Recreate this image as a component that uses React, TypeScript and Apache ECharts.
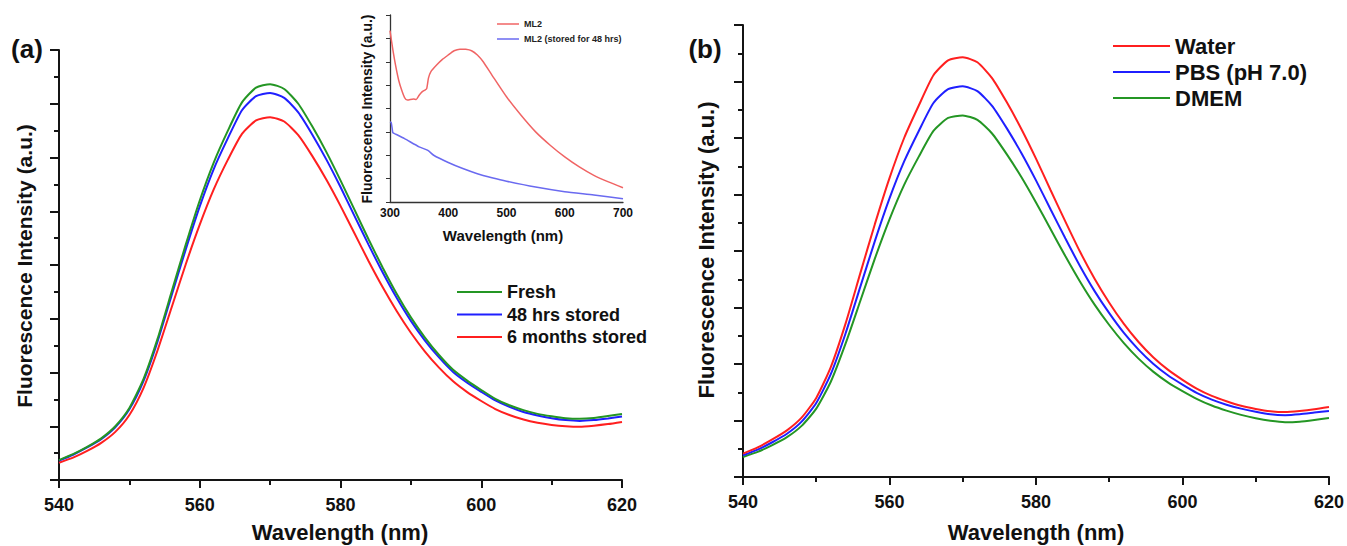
import React, { useEffect, useRef } from "react";
import * as echarts from "echarts";

const FONT = '"Liberation Sans", Arial, sans-serif';
const RED = "#ff1f1f";
const BLUE = "#1f1fff";
const GREEN = "#249624";
const AXIS = "#141414";

// wavelength grid (nm)
const WAVELENGTH = [
  540, 542, 544, 546, 548, 550, 552, 554, 556, 558, 560, 562, 564, 566, 568, 570, 572, 574, 576, 578, 580,
  582, 584, 586, 588, 590, 592, 594, 596, 598, 600, 602, 604, 606, 608, 610, 612, 614, 616, 618, 620,
];

// panel (a)
const FRESH = [
  0.74, 0.96, 1.23, 1.55, 2.0, 2.68, 3.75, 5.25, 7.0, 8.75, 10.4, 11.82, 13.0, 14.05, 14.6, 14.73, 14.55, 14.0, 13.15,
  12.2, 11.15, 10.05, 8.95, 7.9, 6.92, 6.05, 5.3, 4.65, 4.1, 3.7, 3.35, 3.02, 2.78, 2.6, 2.46, 2.37, 2.3, 2.28,
  2.31, 2.38, 2.46,
];
const STORED_48H = [
  0.72, 0.94, 1.21, 1.52, 1.96, 2.63, 3.68, 5.15, 6.87, 8.57, 10.18, 11.58, 12.72, 13.76, 14.28, 14.4, 14.22, 13.68,
  12.85, 11.92, 10.9, 9.82, 8.75, 7.72, 6.77, 5.92, 5.19, 4.56, 4.02, 3.62, 3.28, 2.96, 2.72, 2.53, 2.4, 2.3, 2.23,
  2.2, 2.23, 2.29, 2.36,
];
const STORED_6M = [
  0.64, 0.83, 1.08, 1.38, 1.79, 2.42, 3.42, 4.82, 6.42, 8.02, 9.5, 10.82, 11.92, 12.88, 13.38, 13.5, 13.34, 12.83,
  12.05, 11.17, 10.2, 9.17, 8.14, 7.17, 6.28, 5.48, 4.78, 4.18, 3.67, 3.27, 2.94, 2.64, 2.42, 2.25, 2.13, 2.05, 2.0,
  1.98, 2.02, 2.08, 2.16,
];

// panel (b)
const WATER = [
  0.83, 1.05, 1.33, 1.65, 2.1, 2.8, 3.9, 5.43, 7.2, 8.95, 10.58, 12.0, 13.15, 14.22, 14.75, 14.86, 14.68, 14.12,
  13.27, 12.32, 11.27, 10.15, 9.05, 7.98, 7.02, 6.17, 5.42, 4.78, 4.24, 3.8, 3.44, 3.12, 2.87, 2.68, 2.52, 2.41, 2.33,
  2.3, 2.34, 2.4, 2.48,
];
const PBS = [
  0.77, 0.97, 1.23, 1.53, 1.96, 2.62, 3.65, 5.08, 6.72, 8.35, 9.86, 11.17, 12.25, 13.24, 13.73, 13.83, 13.66, 13.14,
  12.35, 11.47, 10.5, 9.47, 8.45, 7.47, 6.58, 5.8, 5.1, 4.51, 4.01, 3.6, 3.27, 2.97, 2.74, 2.56, 2.42, 2.31, 2.22,
  2.19, 2.22, 2.28, 2.34,
];
const DMEM = [
  0.71, 0.89, 1.13, 1.41, 1.81, 2.42, 3.38, 4.72, 6.22, 7.73, 9.12, 10.34, 11.34, 12.25, 12.71, 12.8, 12.64, 12.16,
  11.43, 10.62, 9.72, 8.77, 7.82, 6.92, 6.1, 5.38, 4.74, 4.19, 3.73, 3.35, 3.04, 2.76, 2.53, 2.35, 2.2, 2.08, 1.99,
  1.94, 1.96, 2.02, 2.09,
];

// inset
const INSET_ML2_X = [
  300, 305, 310, 315, 320, 325, 330, 340, 345, 350, 355, 360, 363, 366, 370, 380, 390, 400, 410, 420, 430, 440, 450,
  460, 475, 500, 525, 550, 575, 600, 625, 650, 675, 700,
];
const INSET_ML2_Y = [
  7.33, 6.5, 5.79, 5.2, 4.79, 4.47, 4.36, 4.41, 4.39, 4.57, 4.71, 4.79, 4.85, 5.3, 5.57, 5.86, 6.1, 6.29, 6.47, 6.54,
  6.53, 6.47, 6.29, 6.0, 5.43, 4.5, 3.71, 3.0, 2.43, 1.93, 1.5, 1.14, 0.86, 0.61,
];
const INSET_STORED_X = [300, 302, 304, 305, 310, 325, 350, 365, 375, 400, 425, 450, 475, 500, 550, 600, 650, 700];
const INSET_STORED_Y = [3.43, 3.4, 3.1, 2.96, 2.9, 2.71, 2.36, 2.21, 2.0, 1.69, 1.43, 1.21, 1.04, 0.89, 0.64, 0.44, 0.3, 0.14];

const LEGEND_A = ["Fresh", "48 hrs stored", "6 months stored"];
const LEGEND_B = ["Water", "PBS (pH 7.0)", "DMEM"];
const LEGEND_INSET = ["ML2", "ML2 (stored for 48 hrs)"];

const pairs = (xs: number[], ys: number[]) => xs.map((x, i) => [x, ys[i]]);

function mainX(gridIndex: number) {
  return {
    type: "value",
    gridIndex,
    min: 540,
    max: 620,
    interval: 20,
    axisLine: { lineStyle: { color: AXIS, width: 2 } },
    axisTick: { length: 8, lineStyle: { color: AXIS, width: 2 } },
    minorTick: { show: true, splitNumber: 2, length: 5, lineStyle: { color: AXIS, width: 2 } },
    splitLine: { show: false },
    axisLabel: { fontSize: 18, fontWeight: "bold", color: "#111", margin: 16, fontFamily: FONT },
  };
}
function mainY(gridIndex: number) {
  return {
    type: "value",
    gridIndex,
    min: 0,
    max: 16,
    interval: 2,
    axisLine: { show: true, lineStyle: { color: AXIS, width: 2 } },
    axisTick: { show: true, length: 9, lineStyle: { color: AXIS, width: 2 } },
    minorTick: { show: true, splitNumber: 2, length: 5, lineStyle: { color: AXIS, width: 2 } },
    splitLine: { show: false },
    axisLabel: { show: false },
  };
}
function line(name: string, color: string, xi: number, data: number[][], width = 2) {
  return {
    type: "line",
    name,
    xAxisIndex: xi,
    yAxisIndex: xi,
    data,
    color,
    showSymbol: false,
    symbol: "none",
    smooth: 0.2,
    lineStyle: { color, width },
  };
}
function text(t: string, x: number, y: number, size: number, rotate = false) {
  return {
    type: "text",
    x,
    y,
    rotation: rotate ? Math.PI / 2 : 0,
    style: {
      text: t,
      fontSize: size,
      fontWeight: "bold",
      fontFamily: FONT,
      fill: "#111",
      align: "center",
      verticalAlign: "middle",
    },
  };
}

export default function App() {
  const ref = useRef<HTMLDivElement>(null);
  useEffect(() => {
    if (!ref.current) return;
    const chart = echarts.init(ref.current, null, { renderer: "svg" });
    const option = {
      animation: false,
      backgroundColor: "#ffffff",
      grid: [
        { left: 59, top: 50, width: 563, height: 430 },
        { left: 743, top: 25, width: 586, height: 452 },
        { left: 390, top: 15, width: 233, height: 187 },
      ],
      xAxis: [
        mainX(0),
        mainX(1),
        {
          type: "value",
          gridIndex: 2,
          min: 300,
          max: 700,
          interval: 100,
          axisLine: { lineStyle: { color: "#333", width: 1.3 } },
          axisTick: { show: false },
          splitLine: { show: false },
          axisLabel: { fontSize: 12, fontWeight: "bold", color: "#111", margin: 5, fontFamily: FONT },
        },
      ],
      yAxis: [
        mainY(0),
        mainY(1),
        {
          type: "value",
          gridIndex: 2,
          min: 0,
          max: 8,
          interval: 1,
          axisLine: { show: true, lineStyle: { color: "#333", width: 1.3 } },
          axisTick: { show: true, length: 4, lineStyle: { color: "#333", width: 1 } },
          splitLine: { show: false },
          axisLabel: { show: false },
        },
      ],
      legend: [
        {
          data: LEGEND_A,
          orient: "vertical",
          left: 457,
          top: 283,
          padding: 0,
          icon: "rect",
          itemWidth: 45,
          itemHeight: 2,
          itemGap: 4.5,
          selectedMode: false,
          textStyle: { fontSize: 18, fontWeight: "bold", color: "#111", lineHeight: 18, fontFamily: FONT },
        },
        {
          data: LEGEND_B,
          orient: "vertical",
          left: 1113,
          top: 35,
          padding: 0,
          icon: "rect",
          itemWidth: 57,
          itemHeight: 2,
          itemGap: 4,
          selectedMode: false,
          textStyle: { fontSize: 22, fontWeight: "bold", color: "#111", lineHeight: 22, fontFamily: FONT },
        },
        {
          data: LEGEND_INSET,
          orient: "vertical",
          left: 497,
          top: 19.5,
          padding: 0,
          icon: "rect",
          itemWidth: 22,
          itemHeight: 1.5,
          itemGap: 6,
          selectedMode: false,
          textStyle: { fontSize: 9, fontWeight: "bold", color: "#222", lineHeight: 9, fontFamily: FONT },
        },
      ],
      series: [
        line(LEGEND_A[2], RED, 0, pairs(WAVELENGTH, STORED_6M)),
        line(LEGEND_A[1], BLUE, 0, pairs(WAVELENGTH, STORED_48H)),
        line(LEGEND_A[0], GREEN, 0, pairs(WAVELENGTH, FRESH)),
        line(LEGEND_B[2], GREEN, 1, pairs(WAVELENGTH, DMEM)),
        line(LEGEND_B[1], BLUE, 1, pairs(WAVELENGTH, PBS)),
        line(LEGEND_B[0], RED, 1, pairs(WAVELENGTH, WATER)),
        line(LEGEND_INSET[0], "#f06464", 2, pairs(INSET_ML2_X, INSET_ML2_Y), 1.5),
        line(LEGEND_INSET[1], "#6a6af0", 2, pairs(INSET_STORED_X, INSET_STORED_Y), 1.5),
      ],
      graphic: [
        text("(a)", 27, 49, 26),
        text("(b)", 705, 49, 26),
        text("Fluorescence Intensity (a.u.)", 24, 266, 21, true),
        text("Fluorescence Intensity (a.u.)", 706, 250, 22, true),
        text("Wavelength (nm)", 340, 532, 22),
        text("Wavelength (nm)", 1036, 532, 22),
        text("Wavelength (nm)", 503, 235, 15),
        text("Fluorescence Intensity (a.u.)", 367, 109, 14, true),
      ],
    };
    chart.setOption(option as any);
    return () => chart.dispose();
  }, []);
  return (
    <div
      ref={ref}
      style={{ position: "fixed", left: 0, top: 0, width: 1347, height: 546, background: "#fff" }}
    />
  );
}
